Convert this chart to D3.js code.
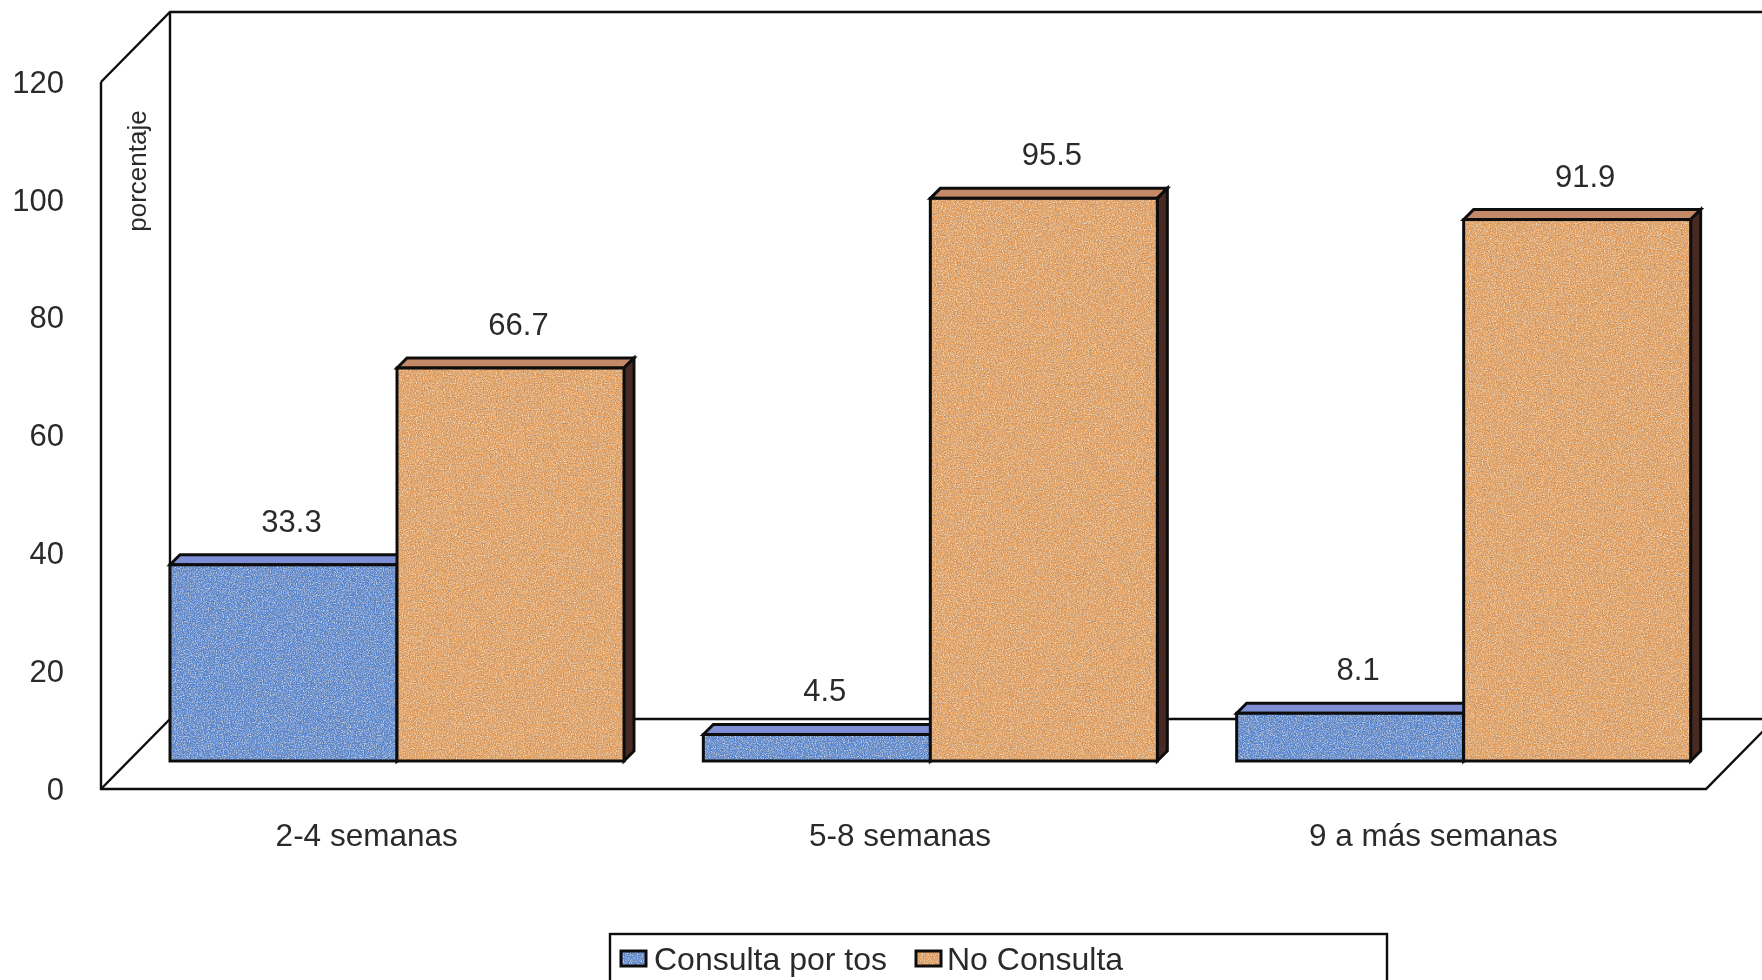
<!DOCTYPE html>
<html><head><meta charset="utf-8">
<script src="https://cdn.jsdelivr.net/npm/d3@7"></script>
<style>html,body{margin:0;padding:0;background:#fff;overflow:hidden}svg{display:block}text{font-family:"Liberation Sans",Arial,sans-serif;fill:#2b2b2b}</style>
</head><body><svg id="c" width="1762" height="980"></svg>
<script>
const categories = ["2-4 semanas","5-8 semanas","9 a más semanas"];
const seriesNames = ["Consulta por tos","No Consulta"];
const consulta = [33.3,4.5,8.1];
const noConsulta = [66.7,95.5,91.9];
const yTicks = [0,20,40,60,80,100,120];
const faceColors = ["#5a8ad6","#e8a25c"];
const topColors = ["#7e8fd6","#c48a68"];
const sideColors = ["#33415f","#4a2a22"];

const svg = d3.select("#c");
const defs = svg.append("defs");
const f = defs.append("filter").attr("id","grain").attr("x","0").attr("y","0").attr("width","1").attr("height","1");
f.append("feTurbulence").attr("type","fractalNoise").attr("baseFrequency","0.85").attr("numOctaves",2).attr("seed",4).attr("result","n");
f.append("feColorMatrix").attr("in","n").attr("type","matrix")
 .attr("values","0 0 0 0 1  0 0 0 0 1  0 0 0 0 0.8  1.5 0 0 0 -0.66").attr("result","light");
f.append("feColorMatrix").attr("in","n").attr("type","matrix")
 .attr("values","0 0 0 0 0.1  0 0 0 0 0.15  0 0 0 0 0.2  0 1.5 0 0 -0.68").attr("result","dark");
f.append("feComposite").attr("in","light").attr("in2","SourceGraphic").attr("operator","in").attr("result","l2");
f.append("feComposite").attr("in","dark").attr("in2","SourceGraphic").attr("operator","in").attr("result","d2");
const m = f.append("feMerge");
["SourceGraphic","l2","d2"].forEach(i=>m.append("feMergeNode").attr("in",i));
const soft = defs.append("filter").attr("id","soft");
soft.append("feGaussianBlur").attr("stdDeviation",0.5);

const root = svg.append("g").attr("filter","url(#soft)");

// front plane
const frontLeft=101, frontRight=1706, floorFront=789, depthX=69, depthY=70;
const y = d3.scaleLinear().domain([0,120]).range([floorFront,82]);
const yBar = d3.scaleLinear().domain([0,120]).range([761,54]);
const x0 = d3.scaleBand().domain(categories).range([100,1700]);
const x1 = d3.scaleBand().domain(seriesNames).range([0,454]);
const groupStart = c => x0(c)+depthX+1;

// walls and floor
const line = d3.line();
const frame = [
 [[frontLeft,y(120)],[frontLeft,y(0)],[frontRight,y(0)],[frontRight+depthX,y(0)-depthY]],
 [[frontLeft,y(120)],[frontLeft+depthX,y(120)-depthY],[frontRight+depthX,y(120)-depthY]],
 [[frontLeft+depthX,y(120)-depthY],[frontLeft+depthX,y(0)-depthY],[frontRight+depthX,y(0)-depthY]],
 [[frontLeft,y(0)],[frontLeft+depthX,y(0)-depthY]]
];
root.selectAll("path.frame").data(frame).join("path").attr("class","frame")
 .attr("d",line).attr("fill","none").attr("stroke","#111").attr("stroke-width",2.4);

// axis
const ax = root.append("g").attr("transform",`translate(${frontLeft},0)`)
 .call(d3.axisLeft(y).tickValues(yTicks).tickSize(0).tickPadding(37));
ax.select(".domain").remove();
ax.selectAll("text").style("font-size","31px").attr("dy","0.33em");

root.append("text").attr("transform","translate(146,171) rotate(-90)")
 .attr("text-anchor","middle").style("font-size","26px").text("porcentaje");

// bars
const d = 10;
const rows = [];
categories.forEach((c,i)=>{
  [consulta,noConsulta].forEach((s,j)=>rows.push({c,v:s[i],j,name:seriesNames[j]}));
});
const bars = root.selectAll("g.bar").data(rows).join("g").attr("class","bar");
const bx = r => groupStart(r.c)+x1(r.name);
const bw = x1.bandwidth();
const sk = "#0e0e0e";
bars.append("path").attr("d",r=>line([[bx(r),yBar(r.v)],[bx(r)+d,yBar(r.v)-d],[bx(r)+bw+d,yBar(r.v)-d],[bx(r)+bw,yBar(r.v)]])+"Z")
 .attr("fill",r=>topColors[r.j]).attr("stroke",sk).attr("stroke-width",3);
bars.append("path").attr("d",r=>line([[bx(r)+bw,yBar(r.v)],[bx(r)+bw+d,yBar(r.v)-d],[bx(r)+bw+d,yBar(0)-d],[bx(r)+bw,yBar(0)]])+"Z")
 .attr("fill",r=>sideColors[r.j]).attr("stroke",sk).attr("stroke-width",3);
bars.append("rect").attr("x",bx).attr("y",r=>yBar(r.v)).attr("width",bw).attr("height",r=>yBar(0)-yBar(r.v))
 .attr("fill",r=>faceColors[r.j]).attr("filter","url(#grain)");
bars.append("rect").attr("x",bx).attr("y",r=>yBar(r.v)).attr("width",bw).attr("height",r=>yBar(0)-yBar(r.v))
 .attr("fill","none").attr("stroke",sk).attr("stroke-width",3);
bars.append("text").attr("x",r=>bx(r)+bw/2+8).attr("y",r=>yBar(r.v)-33)
 .attr("text-anchor","middle").style("font-size","31px").text(r=>r.v.toFixed(1));

// category labels
root.selectAll("text.cat").data(categories).join("text").attr("class","cat")
 .attr("x",c=>x0(c)+x0.bandwidth()/2).attr("y",846).attr("text-anchor","middle")
 .style("font-size","31.5px").text(c=>c);

// legend
root.append("rect").attr("x",610).attr("y",934).attr("width",777).attr("height",70)
 .attr("fill","#fff").attr("stroke","#111").attr("stroke-width",2.4);
const legendX=[621,916], legendTextX=[654,947];
seriesNames.forEach((n,j)=>{
  root.append("rect").attr("x",legendX[j]).attr("y",951).attr("width",25).attr("height",15)
   .attr("fill",faceColors[j]).attr("filter","url(#grain)");
  root.append("rect").attr("x",legendX[j]).attr("y",951).attr("width",25).attr("height",15)
   .attr("fill","none").attr("stroke",sk).attr("stroke-width",3);
  root.append("text").attr("x",legendTextX[j]).attr("y",970).style("font-size","32px").text(n);
});
</script></body></html>
